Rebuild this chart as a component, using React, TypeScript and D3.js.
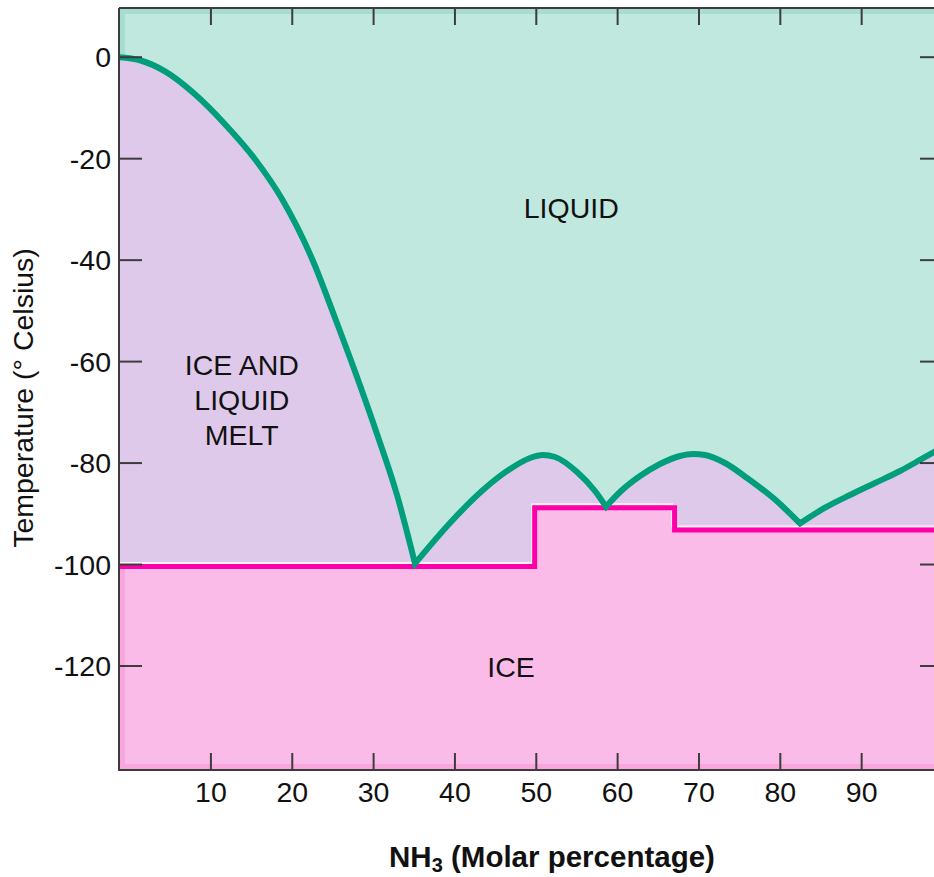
import * as d3 from "d3";

// NH3 molar percentage vs temperature (°C)
const liquidus: [number, number][] = [
  [-1.3, 0], [1.28, -0.6], [4.36, -2.8], [8.04, -7.3], [11.73, -13.2], [15.42, -20.1],
  [18.74, -27.95], [22.55, -40.17], [25.26, -51.4], [27.96, -63.03], [30.42, -74.27],
  [32.88, -86.3], [35.09, -99.8],
  [39.39, -91.8], [43.45, -85.3], [46.77, -81.17], [49.23, -79.0], [50.83, -78.41],
  [52.3, -78.8], [55.01, -81.76], [57.22, -85.5], [58.57, -88.6],
  [60.29, -85.7], [62.75, -82.55], [65.21, -80.18], [67.67, -78.6], [69.27, -78.21],
  [70.74, -78.41], [73.2, -79.99], [75.91, -82.94], [79.35, -87.2], [82.42, -91.9],
  [85.5, -88.8], [88.57, -86.29], [91.64, -83.93], [94.72, -81.56], [97.17, -79.39],
  [98.9, -77.82], [100, -76.83],
];
// solidus, drawn as steps
const solidus: [number, number][] = [
  [-1.3, -100.4], [49.8, -88.8], [67.0, -93.2], [100, -93.2],
];
const xTicks = [10, 20, 30, 40, 50, 60, 70, 80, 90];
const yTicks = [0, -20, -40, -60, -80, -100, -120];
const regionNames = [["LIQUID"], ["ICE AND", "LIQUID", "MELT"], ["ICE"]];
const regionAnchors: [number, number][] = [[54.3, -31.7], [13.8, -62.6], [46.9, -122.2]];

const W = 934;
const H = 877;
const left = 119, right = 943, top = 8, bottom = 770;
const font = "'Liberation Sans', Arial, Helvetica, sans-serif";
const fs = 28.5;

export default function App() {
  const x = d3.scaleLinear().domain([-1.3, 100]).range([left, right]);
  const y = d3.scaleLinear().domain([-140.5, 9.7]).range([bottom, top]);

  // split liquidus at the eutectic cusps so they stay sharp
  const segs: [number, number][][] = [[]];
  liquidus.forEach((p, i) => {
    segs[segs.length - 1].push(p);
    const prev = liquidus[i - 1], next = liquidus[i + 1];
    if (prev && next && p[1] < prev[1] && p[1] < next[1]) segs.push([p]);
  });
  const line = d3.line<[number, number]>()
    .x((d) => x(d[0]))
    .y((d) => y(d[1]))
    .curve(d3.curveMonotoneX);
  const liqPath = segs.map((s, i) => {
    const p = line(s) || "";
    return i === 0 ? p : "L" + p.slice(1);
  }).join("");
  const first = liquidus[0], last = liquidus[liquidus.length - 1];
  const underLiq = `${liqPath}L${x(last[0])},${bottom}L${x(first[0])},${bottom}Z`;
  const aboveLiq = `${liqPath}L${x(last[0])},${top}L${x(first[0])},${top}Z`;

  const step = d3.line<[number, number]>()
    .x((d) => x(d[0]))
    .y((d) => y(d[1]))
    .curve(d3.curveStepAfter);
  const solPath = step(solidus) || "";
  const iceArea = d3.area<[number, number]>()
    .x((d) => x(d[0]))
    .y0(bottom)
    .y1((d) => y(d[1]))
    .curve(d3.curveStepAfter)(solidus) || "";

  return (
    <svg width={W} height={H} style={{ position: "absolute", left: 0, top: 0 }} fontFamily={font}>
      <defs>
        <clipPath id="liqClip"><path d={aboveLiq} /></clipPath>
        <clipPath id="iceClip"><path d={iceArea} /></clipPath>
      </defs>
      <rect x={left} y={top} width={right - left} height={bottom - top} fill="#c0e8df" />
      <rect x={left} y={top} width={right - left} height={bottom - top} fill="none"
        stroke="#a6ddd0" strokeWidth={12} clipPath="url(#liqClip)" />
      <path d={underLiq} fill="#dfc9eb" />
      <path d={iceArea} fill="#fbbbe8" />
      <rect x={left} y={top} width={right - left} height={bottom - top} fill="none"
        stroke="#f9a6de" strokeWidth={12} clipPath="url(#iceClip)" />

      <path d={solPath} fill="none" stroke="#ffffff" strokeWidth={2} opacity={0.8}
        transform="translate(-2.5,-3.5)" />
      <path d={solPath} fill="none" stroke="#ff00a8" strokeWidth={5} />
      <path d={liqPath} fill="none" stroke="#009e7a" strokeWidth={6} strokeLinejoin="miter" />

      {/* frame */}
      <g stroke="#3c3c3c" strokeWidth={2} fill="none">
        <line x1={left} x2={left} y1={top} y2={bottom + 1} />
        <line x1={left} x2={right} y1={top} y2={top} />
        <line x1={left - 1} x2={right} y1={bottom} y2={bottom} />
        <line x1={right} x2={right} y1={top} y2={bottom} />
        {xTicks.map((t) => (
          <g key={"x" + t}>
            <line x1={x(t)} x2={x(t)} y1={bottom} y2={bottom - 17} />
            <line x1={x(t)} x2={x(t)} y1={top} y2={top + 17} />
          </g>
        ))}
        {yTicks.map((t) => (
          <g key={"y" + t}>
            <line x1={left} x2={left + 23} y1={y(t)} y2={y(t)} />
            <line x1={right - 23} x2={right} y1={y(t)} y2={y(t)} />
          </g>
        ))}
      </g>

      {xTicks.map((t) => (
        <text key={"xl" + t} x={x(t)} y={802} textAnchor="middle" fontSize={fs} fill="#111">{t}</text>
      ))}
      {yTicks.map((t) => (
        <text key={"yl" + t} x={111} y={y(t) + 10} textAnchor="end" fontSize={fs} fill="#111">{t}</text>
      ))}

      {regionNames.map((lines, i) => (
        <text key={"r" + i} x={x(regionAnchors[i][0])} y={y(regionAnchors[i][1])}
          textAnchor="middle" fontSize={fs} fill="#111">
          {lines.map((l, j) => (
            <tspan key={j} x={x(regionAnchors[i][0])} dy={j === 0 ? 0 : 35}>{l}</tspan>
          ))}
        </text>
      ))}

      <text transform="rotate(-90)" x={-398} y={33} textAnchor="middle" fontSize={fs} fill="#111">
        Temperature (° Celsius)
      </text>
      <text x={552} y={867} textAnchor="middle" fontSize={29.5} fontWeight="bold" fill="#111">
        NH<tspan fontSize={20} dy={5}>3</tspan><tspan dy={-5}> (Molar percentage)</tspan>
      </text>
    </svg>
  );
}
